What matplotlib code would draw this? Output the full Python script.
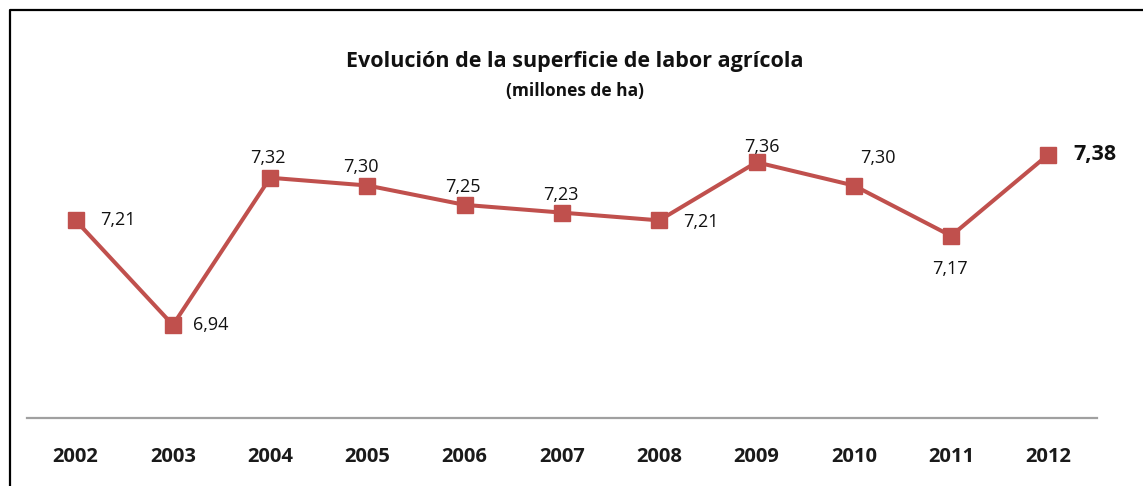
import matplotlib.pyplot as plt
from matplotlib.lines import Line2D

# Data
years = ["2002", "2003", "2004", "2005", "2006", "2007", "2008", "2009", "2010", "2011", "2012"]
values = [7.21, 6.94, 7.32, 7.30, 7.25, 7.23, 7.21, 7.36, 7.30, 7.17, 7.38]
labels = ["7,21", "6,94", "7,32", "7,30", "7,25", "7,23", "7,21", "7,36", "7,30", "7,17", "7,38"]
# label offsets in pixels (dx, dy) and horizontal alignment
offsets = [(24, 0, "left"), (20, 0, "left"), (-2, 20, "center"), (-7, 19, "center"),
           (-2, 18, "center"), (-1, 18, "center"), (24, -2, "left"), (5, 15, "center"),
           (24, 28, "center"), (-1, -33, "center"), (25, 0, "left")]

plt.rcParams['font.family'] = ['Open Sans', 'DejaVu Sans']
fig = plt.figure(figsize=(11.43, 4.86), dpi=100)
W, H = 1143, 486
ax = fig.add_axes([27 / W, 1 - 418 / H, (1097 - 27) / W, (418 - 108) / H])

x = list(range(len(years)))
ax.plot(x, values, color="#C0504D", linewidth=2.9, marker="s", markersize=11.5,
        markerfacecolor="#C0504D", markeredgecolor="#C0504D")

for i, (v, lab) in enumerate(zip(values, labels)):
    dx, dy, ha = offsets[i]
    last = i == len(values) - 1
    ax.annotate(lab, (i, v), xytext=(dx, dy), textcoords="offset pixels",
                ha=ha, va="center", fontsize=15.5 if last else 13,
                fontweight="bold" if last else "normal", color="#111111")

ax.set_xlim(-0.5, len(years) - 0.5)
ax.set_ylim(6.7, 7.5)
ax.set_xticks(x)
ax.set_xticklabels(years, fontsize=14.5, fontweight="bold", color="#1a1a1a")
ax.tick_params(axis="x", length=0, pad=21)
ax.set_yticks([])
for s in ["top", "right", "left"]:
    ax.spines[s].set_visible(False)
ax.spines["bottom"].set_color("#A0A0A0")
ax.spines["bottom"].set_linewidth(1.6)

fig.text(575 / W, 1 - 61 / H, "Evolución de la superficie de labor agrícola",
         ha="center", va="center", fontsize=15.5, fontweight="bold", color="#111111")
fig.text(575 / W, 1 - 91 / H, "(millones de ha)",
         ha="center", va="center", fontsize=12.5, fontweight="bold", color="#111111")

# outer frame (left and top edges)
fig.add_artist(Line2D([9.5 / W, 9.5 / W, 1.0], [0.0, 1 - 10.5 / H, 1 - 10.5 / H],
                      transform=fig.transFigure, color="black", linewidth=1.6))

fig.savefig("out.png", dpi=100)
